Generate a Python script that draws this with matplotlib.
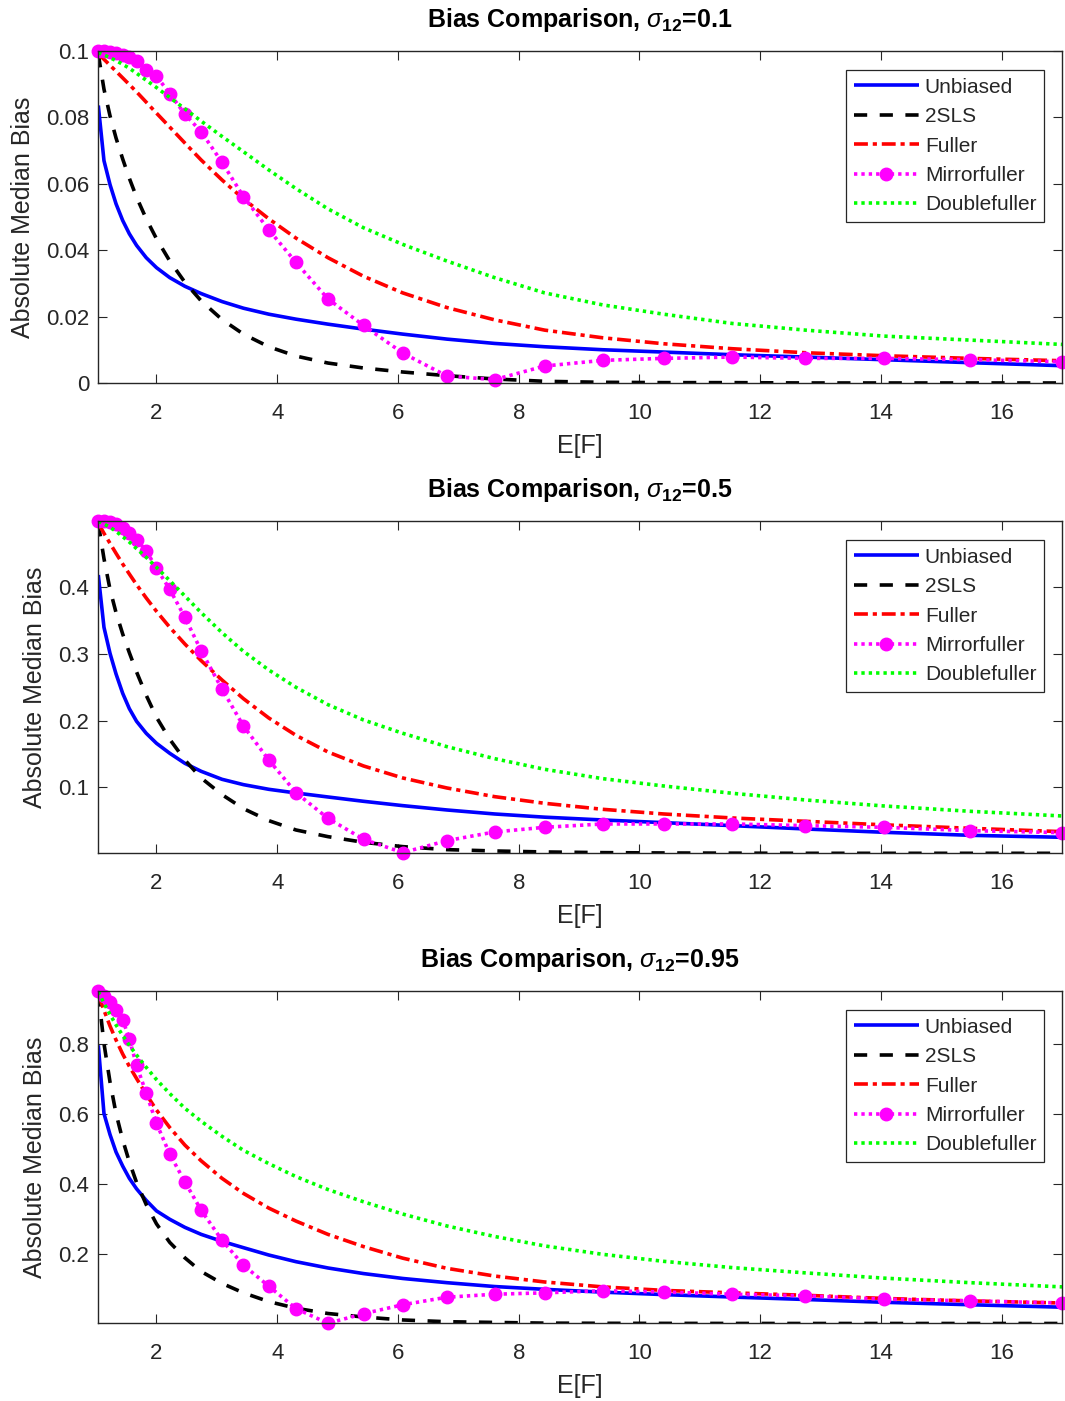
import matplotlib
matplotlib.use('Agg')
import matplotlib.pyplot as plt

plt.rcParams['font.family'] = ['Liberation Sans', 'DejaVu Sans']
plt.rcParams['mathtext.fontset'] = 'custom'
plt.rcParams['mathtext.rm'] = 'Liberation Sans'
plt.rcParams['mathtext.it'] = 'Liberation Sans:italic'
plt.rcParams['mathtext.bf'] = 'Liberation Sans:bold'
plt.rcParams['lines.scale_dashes'] = False

# ---------------- data ----------------
ef = [1.036, 1.13, 1.23, 1.33, 1.44, 1.55, 1.67, 1.83, 2.00, 2.22, 2.47, 2.74, 3.085,
      3.44, 3.86, 4.31, 4.84, 5.43, 6.08, 6.81, 7.60, 8.43, 9.39, 10.40, 11.54, 12.75,
      14.05, 15.48, 17.0]

sigma_labels = ['0.1', '0.5', '0.95']
series_names = ['Unbiased', '2SLS', 'Fuller', 'Mirrorfuller', 'Doublefuller']

# sigma12 = 0.1
unbiased_01 = [0.0836, 0.067, 0.0598, 0.054, 0.049, 0.045, 0.0415, 0.0378, 0.0348, 0.0318,
               0.0292, 0.027, 0.0246, 0.0226, 0.0208, 0.0193, 0.0178, 0.0163, 0.0148, 0.0133,
               0.012, 0.011, 0.0101, 0.0094, 0.0086, 0.0079, 0.0071, 0.0062, 0.0053]
twosls_01 = [0.099, 0.0885, 0.0805, 0.0738, 0.0675, 0.0617, 0.056, 0.0495, 0.0435, 0.0368,
             0.0304, 0.0248, 0.0192, 0.0148, 0.011, 0.0082, 0.0061, 0.0046, 0.0034, 0.0023,
             0.0013, 0.0006, 0.0003, 0.0002, 0.0002, 0.0001, 0.0001, 0.0001, 0.0001]
fuller_01 = [0.0992, 0.0975, 0.0957, 0.0939, 0.0919, 0.0899, 0.0877, 0.0846, 0.0813, 0.0771,
             0.0723, 0.0672, 0.0612, 0.0555, 0.0495, 0.0437, 0.0378, 0.0322, 0.0272, 0.0228,
             0.0191, 0.016, 0.0137, 0.0119, 0.0104, 0.0092, 0.0083, 0.0075, 0.0068]
mirror_01 = [0.1, 0.1, 0.0997, 0.0994, 0.0987, 0.0982, 0.097, 0.0944, 0.0924, 0.0872, 0.081,
             0.0757, 0.0665, 0.0562, 0.0462, 0.0364, 0.0254, 0.0174, 0.0091, 0.0022, 0.0011,
             0.0052, 0.0069, 0.0075, 0.0079, 0.0075, 0.0075, 0.0071, 0.0065]
double_01 = [0.0995, 0.0988, 0.098, 0.0971, 0.096, 0.0948, 0.0933, 0.0912, 0.089, 0.086,
             0.0826, 0.0789, 0.0743, 0.0697, 0.0642, 0.0586, 0.0525, 0.0468, 0.0418, 0.0368,
             0.0318, 0.0272, 0.0236, 0.0208, 0.018, 0.016, 0.0142, 0.013, 0.0117]

# sigma12 = 0.5
unbiased_05 = [0.4185, 0.34, 0.301, 0.27, 0.241, 0.218, 0.199, 0.181, 0.166, 0.151, 0.136,
               0.124, 0.112, 0.104, 0.097, 0.0915, 0.0855, 0.079, 0.0725, 0.066, 0.060,
               0.0552, 0.051, 0.047, 0.0425, 0.0375, 0.0325, 0.028, 0.025]
twosls_05 = [0.496, 0.443, 0.397, 0.362, 0.330, 0.302, 0.273, 0.238, 0.205, 0.172, 0.141,
             0.114, 0.089, 0.068, 0.05, 0.036, 0.026, 0.0175, 0.011, 0.0065, 0.0045, 0.003,
             0.002, 0.0015, 0.0012, 0.001, 0.001, 0.001, 0.001]
fuller_05 = [0.496, 0.481, 0.466, 0.451, 0.435, 0.42, 0.404, 0.384, 0.364, 0.34, 0.315,
             0.29, 0.261, 0.233, 0.204, 0.178, 0.153, 0.132, 0.114, 0.099, 0.086, 0.076,
             0.067, 0.06, 0.054, 0.049, 0.0437, 0.0385, 0.0335]
mirror_05 = [0.5, 0.4995, 0.4985, 0.4945, 0.4885, 0.481, 0.471, 0.455, 0.4285, 0.397, 0.355,
             0.305, 0.2475, 0.192, 0.141, 0.092, 0.0535, 0.022, 0.002, 0.020, 0.033, 0.040,
             0.045, 0.045, 0.045, 0.0425, 0.040, 0.035, 0.032]
double_05 = [0.499, 0.495, 0.49, 0.484, 0.476, 0.468, 0.458, 0.445, 0.43, 0.41, 0.387,
             0.362, 0.332, 0.304, 0.276, 0.25, 0.224, 0.201, 0.181, 0.161, 0.143, 0.127,
             0.113, 0.102, 0.091, 0.081, 0.072, 0.064, 0.057]

# sigma12 = 0.95
unbiased_95 = [0.795, 0.60, 0.54, 0.49, 0.45, 0.415, 0.385, 0.352, 0.322, 0.298, 0.275,
               0.255, 0.235, 0.217, 0.196, 0.177, 0.159, 0.143, 0.129, 0.117, 0.106, 0.098,
               0.090, 0.083, 0.076, 0.069, 0.061, 0.054, 0.047]
twosls_95 = [0.943, 0.80, 0.69, 0.60, 0.525, 0.462, 0.403, 0.34, 0.285, 0.232, 0.188, 0.149,
             0.115, 0.088, 0.063, 0.044, 0.029, 0.019, 0.0105, 0.0055, 0.0035, 0.0015, 0.001,
             0.0008, 0.0006, 0.0005, 0.0005, 0.0005, 0.0005]
fuller_95 = [0.94, 0.895, 0.85, 0.81, 0.77, 0.735, 0.70, 0.655, 0.61, 0.56, 0.51, 0.465,
             0.415, 0.372, 0.33, 0.293, 0.255, 0.22, 0.187, 0.158, 0.136, 0.119, 0.105,
             0.095, 0.088, 0.081, 0.072, 0.065, 0.059]
mirror_95 = [0.95, 0.937, 0.918, 0.897, 0.868, 0.813, 0.738, 0.658, 0.572, 0.484, 0.405,
             0.324, 0.238, 0.167, 0.107, 0.043, 0.001, 0.0285, 0.054, 0.0755, 0.084, 0.088,
             0.094, 0.0905, 0.084, 0.0795, 0.070, 0.065, 0.059]
double_95 = [0.948, 0.915, 0.883, 0.853, 0.823, 0.795, 0.767, 0.732, 0.697, 0.657, 0.615,
             0.578, 0.535, 0.495, 0.457, 0.42, 0.383, 0.348, 0.313, 0.279, 0.249, 0.222,
             0.198, 0.178, 0.16, 0.145, 0.13, 0.117, 0.105]

panels = [
    (sigma_labels[0], [unbiased_01, twosls_01, fuller_01, mirror_01, double_01],
     (0.0, 0.1), [0, 0.02, 0.04, 0.06, 0.08, 0.1], ['0', '0.02', '0.04', '0.06', '0.08', '0.1']),
    (sigma_labels[1], [unbiased_05, twosls_05, fuller_05, mirror_05, double_05],
     (0.001, 0.4995), [0.1, 0.2, 0.3, 0.4], ['0.1', '0.2', '0.3', '0.4']),
    (sigma_labels[2], [unbiased_95, twosls_95, fuller_95, mirror_95, double_95],
     (0.001, 0.95), [0.2, 0.4, 0.6, 0.8], ['0.2', '0.4', '0.6', '0.8']),
]

xticks = [2, 4, 6, 8, 10, 12, 14, 16]

# ---------------- figure ----------------
W, H = 1065, 1401
fig = plt.figure(figsize=(W / 100, H / 100), dpi=100)
fig.patch.set_facecolor('white')

ax_left, ax_right = 98.3, 1062.0
ax_tops = [51.0, 521.0, 991.0]
ax_h = 332.3
tc = '#262626'

styles = [
    dict(color='#0000FF', linestyle='-', solid_capstyle='butt'),
    dict(color='black', linestyle=(0, (9.5, 9.0)), dash_capstyle='butt'),
    dict(color='#FF0000', linestyle=(0, (10.0, 3.5, 3.0, 3.5)), dash_capstyle='butt'),
    dict(color='#FF00FF', linestyle=(0, (2.4, 2.9)), dash_capstyle='butt', marker='o',
         markersize=9, markerfacecolor='#FF00FF', markeredgecolor='#FF00FF', clip_on=False),
    dict(color='#00FF00', linestyle=(0, (2.4, 2.9)), dash_capstyle='butt'),
]

for top, (sig, ys, ylim, yt, ytl) in zip(ax_tops, panels):
    ax = fig.add_axes([ax_left / W, 1 - (top + ax_h) / H, (ax_right - ax_left) / W, ax_h / H])
    handles = []
    for name, y, st in zip(series_names, ys, styles):
        ln, = ax.plot(ef, y, lw=2.6, label=name, **st)
        handles.append(ln)
    ax.set_xlim(ef[0], ef[-1])
    ax.set_ylim(*ylim)
    ax.set_xticks(xticks)
    ax.set_xticklabels([str(t) for t in xticks])
    ax.set_yticks(yt)
    ax.set_yticklabels(ytl)
    ax.tick_params(direction='in', length=6.5, width=0.8, top=True, right=True,
                   labelsize=16, colors=tc)
    ax.tick_params(axis='x', pad=14.5)
    ax.tick_params(axis='y', pad=6.5)
    for sp in ax.spines.values():
        sp.set_color(tc)
        sp.set_linewidth(1.0)
    ax.set_xlabel('E[F]', fontsize=18, color=tc, labelpad=7)
    ax.set_ylabel('Absolute Median Bias', fontsize=18, color=tc, labelpad=8)
    ax.set_title(r'Bias Comparison, $\sigma_{\mathbf{12}}$=' + sig, fontsize=18,
                 fontweight='bold', color='black', pad=17)
    leg = ax.legend(handles=handles, loc='upper right', bbox_to_anchor=(0.9813, 0.9428),
                    borderaxespad=0, fontsize=15, frameon=True, fancybox=False,
                    edgecolor=tc, framealpha=1, handlelength=3.1, handletextpad=0.3,
                    labelspacing=0.5, borderpad=0.37)
    leg.get_frame().set_linewidth(0.9)
    for t in leg.get_texts():
        t.set_color(tc)

fig.savefig('out.png', dpi=100, facecolor='white')
